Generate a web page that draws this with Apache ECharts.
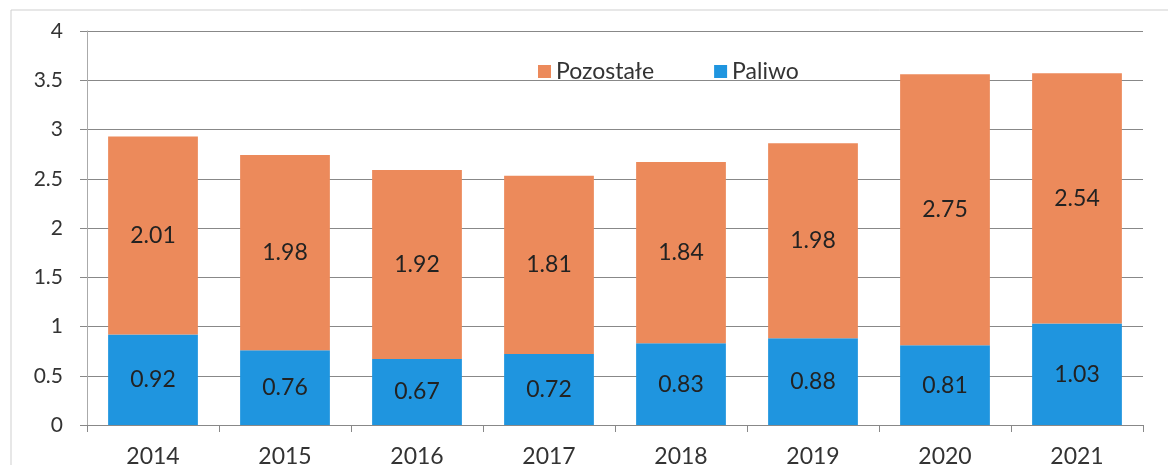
<!DOCTYPE html>
<html><head><meta charset="utf-8">
<script src="https://cdn.jsdelivr.net/npm/echarts@6/dist/echarts.min.js"></script>
<style>html,body{margin:0;padding:0;background:#fff}#c{width:1168px;height:465px}</style>
</head><body><div id="c"></div>
<script>
const categories = ['2014','2015','2016','2017','2018','2019','2020','2021'];
const paliwo = [0.92,0.76,0.67,0.72,0.83,0.88,0.81,1.03];
const pozostale = [2.01,1.98,1.92,1.81,1.84,1.98,2.75,2.54];
const yTicks = {min:0,max:4,interval:0.5};

const font = 'Lato, "Open Sans", sans-serif';
const chart = echarts.init(document.getElementById('c'));
chart.setOption({
  animation:false,
  graphic:[{type:'rect',shape:{x:11,y:10,width:1170,height:470},style:{fill:'none',stroke:'#cfcfcf',lineWidth:1},silent:true}],
  legend:{top:55,left:533,itemWidth:13,itemHeight:13,itemGap:60,icon:'rect',
    textStyle:{fontFamily:font,fontSize:23,color:'#333'},
    data:['Pozostałe','Paliwo']},
  grid:{left:87,right:25,top:31,bottom:40,containLabel:false,outerBoundsMode:'none'},
  xAxis:{type:'category',data:categories,
    axisLine:{lineStyle:{color:'#888'}},
    axisTick:{show:true,length:7,lineStyle:{color:'#888'}},
    axisLabel:{margin:20,fontFamily:font,fontSize:23,color:'#333'}},
  yAxis:{type:'value',min:yTicks.min,max:yTicks.max,interval:yTicks.interval,
    axisLine:{show:true,lineStyle:{color:'#aaa'}},
    axisTick:{show:true,length:7,lineStyle:{color:'#888'}},
    splitLine:{lineStyle:{color:'#888'}},
    axisLabel:{margin:24,fontFamily:font,fontSize:21,color:'#333'}},
  series:[
    {name:'Paliwo',type:'bar',stack:'a',data:paliwo,barWidth:'68%',
      itemStyle:{color:'#1f95df'},
      label:{show:true,position:'inside',fontFamily:font,fontSize:23,color:'#222',formatter:p=>p.value.toFixed(2)}},
    {name:'Pozostałe',type:'bar',stack:'a',data:pozostale,barWidth:'68%',
      itemStyle:{color:'#ec8a5b'},
      label:{show:true,position:'inside',fontFamily:font,fontSize:23,color:'#222',formatter:p=>p.value.toFixed(2)}}
  ]
});
</script></body></html>
